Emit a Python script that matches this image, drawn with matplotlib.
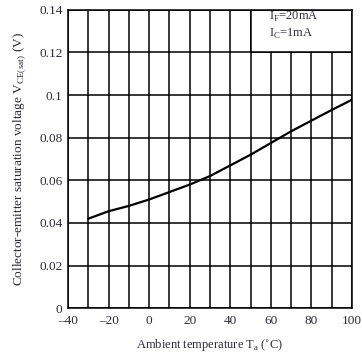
import numpy as np
import matplotlib.pyplot as plt
from matplotlib.patches import Rectangle

# Collector-emitter saturation voltage vs ambient temperature
temp = [-30, -20, -10, 0, 10, 20, 30, 40, 50, 60, 70, 80, 90, 100]
vce_sat = [0.042, 0.0455, 0.048, 0.051, 0.0545, 0.058, 0.062, 0.067,
           0.072, 0.0775, 0.083, 0.088, 0.093, 0.0978]

x_ticks = [-40, -20, 0, 20, 40, 60, 80, 100]
y_ticks = [0, 0.02, 0.04, 0.06, 0.08, 0.1, 0.12, 0.14]
y_labels = ['0', '0.02', '0.04', '0.06', '0.08', '0.1', '0.12', '0.14']

plt.rcParams['font.family'] = ['Liberation Serif', 'DejaVu Serif']
txt_color = '#2b2b3b'

fig = plt.figure(figsize=(3.62, 3.53), dpi=100)
ax = fig.add_axes([0.188, 0.127, 0.784, 0.845])

ax.set_xlim(-40, 100)
ax.set_ylim(0, 0.14)
ax.set_xticks(x_ticks)
ax.set_yticks(y_ticks)
ax.set_yticklabels(y_labels)
ax.set_xticklabels([str(v).replace('-', '\u2013') for v in x_ticks])
ax.set_xticks(np.arange(-40, 101, 10), minor=True)
ax.tick_params(which='both', length=0, labelsize=9.5, colors=txt_color)
ax.tick_params(axis='x', pad=5)
ax.tick_params(axis='y', pad=4)

ax.set_axisbelow(True)
ax.grid(True, which='both', axis='x', color='black', linewidth=1.1, zorder=0.5)
ax.grid(True, which='major', axis='y', color='black', linewidth=1.1, zorder=0.5)

# white box for the test conditions
ax.add_patch(Rectangle((50, 0.12), 50, 0.02, facecolor='white',
                       edgecolor='black', linewidth=1.1, zorder=1))
ax.text(59, 0.1355, r'I$_\mathregular{F}$=20mA', fontsize=9, color=txt_color, zorder=3)
ax.text(59, 0.1275, r'I$_\mathregular{C}$=1mA', fontsize=9, color=txt_color, zorder=3)

ax.plot(temp, vce_sat, color='black', linewidth=1.6, zorder=3)

for s in ax.spines.values():
    s.set_linewidth(1.1)
    s.set_zorder(4)

ax.set_xlabel('Ambient temperature T$_\\mathregular{a}$ (\u02daC)', fontsize=9,
              color=txt_color, labelpad=7)
ax.set_ylabel(r'Collector-emitter saturation voltage V$_\mathregular{CE(sat)}$ (V)',
              fontsize=9.5, color=txt_color, labelpad=8)

fig.savefig('out.png', dpi=100)
